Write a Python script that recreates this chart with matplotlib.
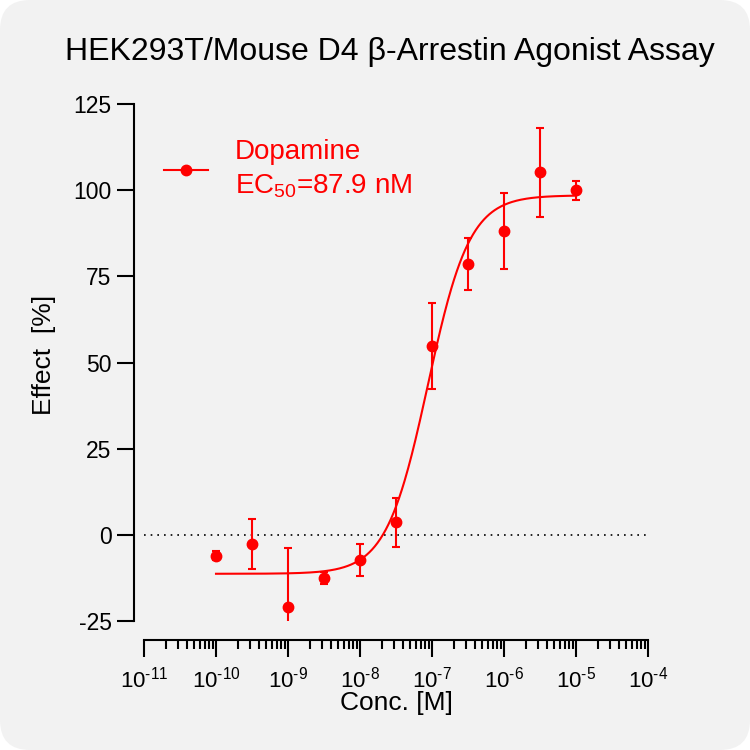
import numpy as np
import matplotlib.pyplot as plt
from matplotlib.lines import Line2D
from matplotlib.patches import FancyBboxPatch
from matplotlib.ticker import LogLocator, FuncFormatter

plt.rcParams['font.family'] = ['Liberation Sans', 'DejaVu Sans']
plt.rcParams['mathtext.fontset'] = 'custom'
plt.rcParams['mathtext.rm'] = 'Liberation Sans'
plt.rcParams['mathtext.it'] = 'Liberation Sans:italic'
plt.rcParams['mathtext.bf'] = 'Liberation Sans:bold'
plt.rcParams['axes.unicode_minus'] = False

# Data
conc = [1e-10, 3.16e-10, 1e-9, 3.16e-9, 1e-8, 3.16e-8, 1e-7, 3.16e-7, 1e-6, 3.16e-6, 1e-5]
effect = [-6.0, -2.7, -20.8, -12.6, -7.3, 3.6, 54.8, 78.6, 88.2, 105.2, 100.0]
sem = [1.4, 7.2, 17.0, 1.7, 4.6, 7.1, 12.4, 7.5, 11.0, 12.9, 2.8]

# 4PL fit parameters
bottom, top = -11.3, 98.5
ec50 = 87.9e-9
hill = 1.5

title = 'HEK293T/Mouse D4 \u03b2-Arrestin Agonist Assay'
legend_label = 'Dopamine\nEC$_{50}$=87.9 nM'
yticks = [-25, 0, 25, 50, 75, 100, 125]
xdecades = list(range(-11, -3))

fig = plt.figure(figsize=(7.5, 7.5), dpi=100, facecolor='white')
fig.patches.append(FancyBboxPatch((0, 0), 1, 1,
                                  boxstyle='round,pad=0,rounding_size=0.04',
                                  transform=fig.transFigure, facecolor='#f2f2f2',
                                  edgecolor='none', zorder=-10))

ax = fig.add_axes([0.192, 0.172, 0.672, 0.6893])
ax.patch.set_visible(False)

xs = np.logspace(-10, -5, 400)
fit = bottom + (top - bottom) / (1 + 10 ** ((np.log10(ec50) - np.log10(xs)) * hill))
ax.plot(xs, fit, color='red', lw=1.5, zorder=3)
ax.errorbar(conc, effect, yerr=sem, fmt='o', color='red', ms=7.5,
            elinewidth=1.5, capsize=3, capthick=1.5, zorder=4)
ax.axhline(0, color='black', lw=1.2, ls=(0, (1, 3)), zorder=2)

ax.set_xscale('log')
ax.set_xlim(1e-11, 1e-4)
ax.set_ylim(-25, 125)
ax.set_xticks([10.0 ** k for k in xdecades])
ax.xaxis.set_major_formatter(FuncFormatter(
    lambda v, _: r'$\mathregular{10^{\text{-}%d}}$' % abs(round(np.log10(v)))))
ax.xaxis.set_minor_locator(LogLocator(base=10, subs=np.arange(2, 10), numticks=20))
ax.xaxis.set_minor_formatter(FuncFormatter(lambda v, _: ''))
ax.set_yticks(yticks)

for s in ['top', 'right']:
    ax.spines[s].set_visible(False)
ax.spines['left'].set_position(('outward', 7.2))
ax.spines['bottom'].set_position(('outward', 13.7))
for s in ['left', 'bottom']:
    ax.spines[s].set_linewidth(1.5)
ax.tick_params(which='major', length=12.2, width=1.5, direction='out')
ax.tick_params(which='minor', length=6.3, width=1.5, direction='out')
ax.tick_params(axis='x', which='major', pad=7, labelsize=16)
ax.tick_params(axis='y', which='major', pad=4, labelsize=16.5)

ax.set_xlabel('Conc. [M]', fontsize=19, va='baseline')
ax.xaxis.set_label_coords(396 / 750, 1 - 710 / 750, transform=fig.transFigure)
ax.set_ylabel('Effect  [%]', fontsize=19, ha='center', va='center')
ax.yaxis.set_label_coords(44.5 / 750, 1 - 355 / 750, transform=fig.transFigure)

fig.text(390 / 750, 1 - 60 / 750, title, ha='center', va='baseline', fontsize=23)

handle = Line2D([0], [0], color='red', marker='o', ms=7.5, lw=1.5)
leg = ax.legend(handles=[handle], labels=[legend_label], loc='upper left',
                bbox_to_anchor=(164 / 750, 1 - 139 / 750), bbox_transform=fig.transFigure,
                frameon=False, fontsize=20, labelcolor='red', handlelength=1.58,
                handletextpad=0.97, borderpad=0, borderaxespad=0)
leg.get_texts()[0].set_linespacing(1.35)

fig.savefig('out.png', dpi=100, facecolor='white')
